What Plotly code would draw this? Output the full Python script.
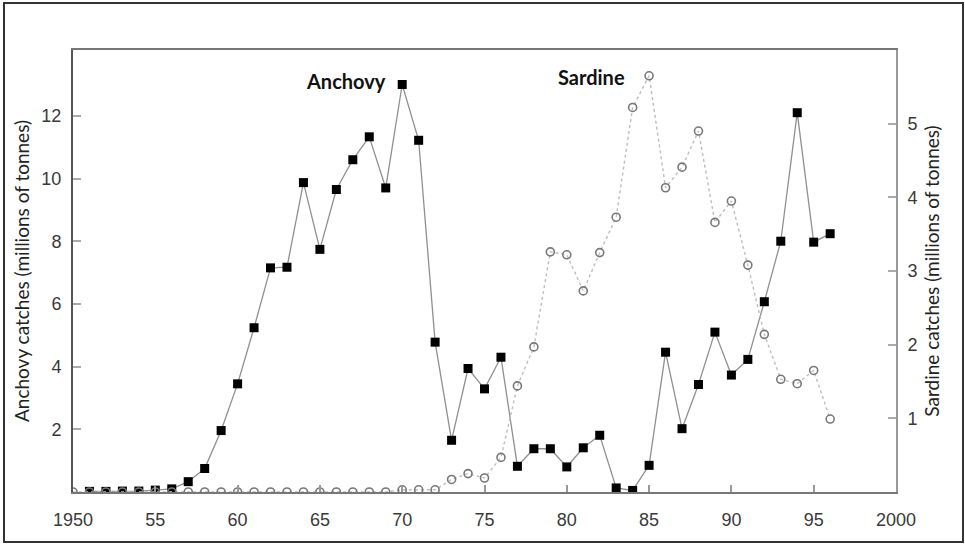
import plotly.graph_objects as go

anchovy_years = list(range(1951, 1997))
anchovy = [0.02, 0.02, 0.03, 0.03, 0.06, 0.1, 0.33, 0.75, 1.96, 3.45,
           5.24, 7.15, 7.17, 9.87, 7.74, 9.65, 10.6, 11.33, 9.7, 13.0,
           11.22, 4.78, 1.65, 3.94, 3.29, 4.3, 0.82, 1.38, 1.38, 0.8,
           1.41, 1.81, 0.13, 0.05, 0.85, 4.46, 2.02, 3.43, 5.1, 3.73,
           4.23, 6.07, 8.0, 12.1, 7.97, 8.24]

sardine_years = list(range(1950, 1997))
sardine = [0.0, 0.0, 0.0, 0.0, 0.0, 0.0, 0.0, 0.0, 0.0, 0.0,
           0.0, 0.0, 0.0, 0.0, 0.0, 0.0, 0.0, 0.0, 0.0, 0.0,
           0.03, 0.03, 0.03, 0.17, 0.25, 0.19, 0.47, 1.44, 1.97, 3.26,
           3.22, 2.73, 3.25, 3.73, 5.22, 5.65, 4.13, 4.41, 4.9, 3.66,
           3.95, 3.08, 2.14, 1.53, 1.47, 1.65, 0.99]

x_tickvals = [1950, 1955, 1960, 1965, 1970, 1975, 1980, 1985, 1990, 1995, 2000]
x_ticktext = ["1950", "55", "60", "65", "70", "75", "80", "85", "90", "95", "2000"]
left_ticks = [2, 4, 6, 8, 10, 12]
right_ticks = [1, 2, 3, 4, 5]

tick_font = dict(family="Liberation Sans", size=18, color="#3a3a3a")
title_font = dict(family="Lato", size=19, color="#222")

fig = go.Figure()
fig.add_trace(go.Scatter(
    x=sardine_years, y=sardine, yaxis="y2", mode="lines+markers",
    line=dict(color="#bdbdbd", width=1.4, dash="dot"),
    marker=dict(symbol="circle-open", size=8, color="#777", line=dict(width=1.6)),
    showlegend=False))
fig.add_trace(go.Scatter(
    x=anchovy_years, y=anchovy, mode="lines+markers",
    line=dict(color="#909090", width=1.3),
    marker=dict(symbol="square", size=9, color="#000"),
    showlegend=False))

fig.update_layout(
    width=965, height=544,
    margin=dict(l=73, r=69, t=50, b=52),
    paper_bgcolor="white", plot_bgcolor="white",
    xaxis=dict(range=[1950, 2000], tickvals=x_tickvals, ticktext=x_ticktext,
               ticks="inside", ticklen=7, tickcolor="#999", tickwidth=1.5,
               showline=True, linecolor="#777", linewidth=2, mirror=True,
               showgrid=False, zeroline=False, tickfont=tick_font,
               ticklabelstandoff=10),
    yaxis=dict(range=[0, 14.1], tickvals=left_ticks,
               ticks="inside", ticklen=8, tickcolor="#aaa", tickwidth=1.5,
               showline=True, linecolor="#555", linewidth=2,
               showgrid=False, zeroline=False, tickfont=tick_font,
               ticklabelstandoff=6,
               title=dict(text="Anchovy catches (millions of tonnes)", font=title_font,
                          standoff=7)),
    yaxis2=dict(range=[0, 6.0], tickvals=right_ticks, overlaying="y", side="right",
                ticks="inside", ticklen=8, tickcolor="#aaa", tickwidth=1.5,
                showline=True, linecolor="#999", linewidth=2,
                showgrid=False, zeroline=False, tickfont=tick_font,
                ticklabelstandoff=6,
                title=dict(text="Sardine catches (millions of tonnes)", font=title_font,
                           standoff=9)),
    annotations=[
        dict(text="<b>Anchovy</b>", x=1966.6, y=13.1, xref="x", yref="y",
             showarrow=False, font=dict(family="Lato", size=20, color="#111")),
        dict(text="<b>Sardine</b>", x=1981.5, y=13.25, xref="x", yref="y",
             showarrow=False, font=dict(family="Lato", size=20, color="#111")),
    ],
    shapes=[
        dict(type="rect", xref="paper", yref="paper",
             x0=(4 - 73) / 823, x1=(963 - 73) / 823,
             y0=(492 - 542) / 442, y1=(492 - 3) / 442,
             line=dict(color="#333", width=2), fillcolor="rgba(0,0,0,0)",
             layer="below"),
    ],
)

fig.write_html("out.html", config={"displayModeBar": False},
               post_script="document.body.style.margin='0px';document.body.style.overflow='hidden';")
